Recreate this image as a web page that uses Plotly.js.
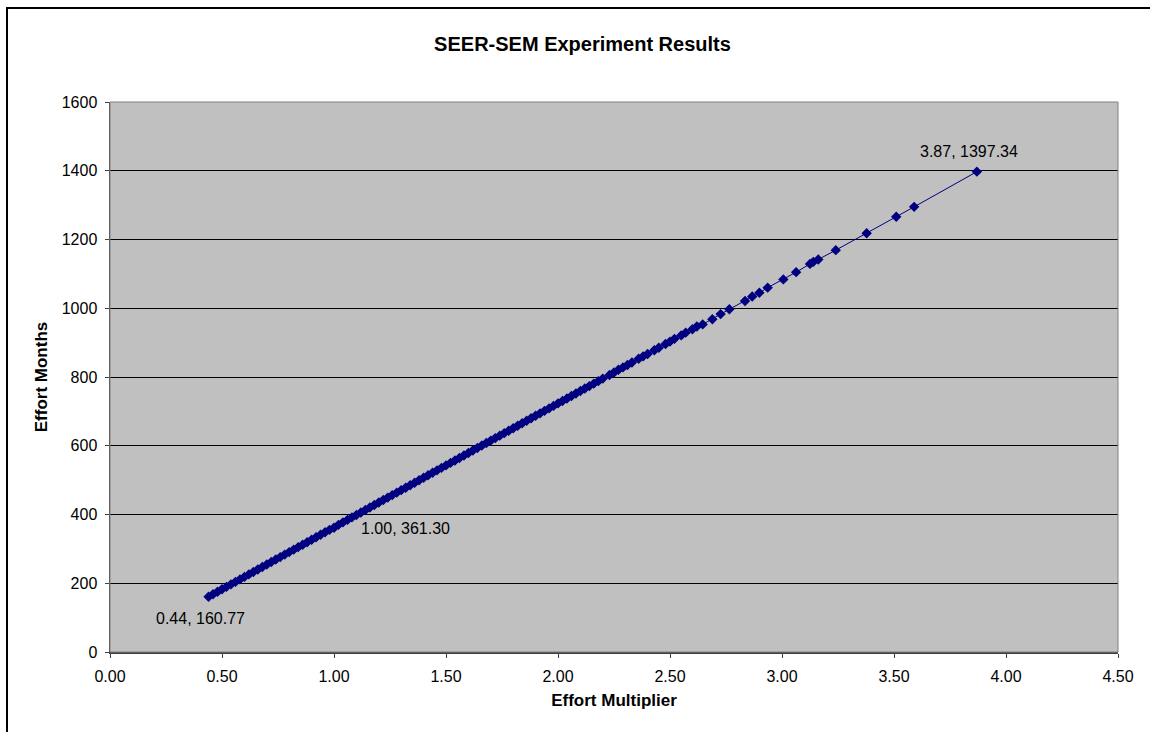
<!DOCTYPE html>
<html>
<head>
<meta charset="utf-8">
<script src="https://cdn.plot.ly/plotly-3.0.1.min.js"></script>
<style>
html,body{margin:0;padding:0;background:#fff;}
#wrap{position:relative;width:1153px;height:732px;overflow:hidden;}
#chart{position:absolute;left:0;top:0;width:1153px;height:732px;}
#frame{position:absolute;left:6px;top:7px;width:1142px;height:740px;border-left:2px solid #000;border-top:2px solid #000;pointer-events:none;}
</style>
</head>
<body>
<div id="wrap"><div id="chart"></div><div id="frame"></div></div>
<script>
// Effort Multiplier (x) and Effort Months (y)
const effortMultiplier = [
0.44,0.46,0.48,0.50,0.52,0.54,0.56,0.58,0.60,0.62,0.64,0.66,0.68,0.70,0.72,0.74,0.76,0.78,0.80,0.82,
0.84,0.86,0.88,0.90,0.92,0.94,0.96,0.98,1.00,1.02,1.04,1.06,1.08,1.10,1.12,1.14,1.16,1.18,1.20,1.22,
1.24,1.26,1.28,1.30,1.32,1.34,1.36,1.38,1.40,1.42,1.44,1.46,1.48,1.50,1.52,1.54,1.56,1.58,1.60,1.62,
1.64,1.66,1.68,1.70,1.72,1.74,1.76,1.78,1.80,1.82,1.84,1.86,1.88,1.90,1.92,1.94,1.96,1.98,2.00,2.02,
2.04,2.06,2.08,2.10,2.12,2.14,2.16,2.18,2.20,2.23,2.25,2.27,2.29,2.31,2.33,2.36,2.38,2.40,2.43,2.45,
2.48,2.50,2.52,2.55,2.57,2.60,2.62,2.646,2.689,2.726,2.765,2.835,2.867,2.899,2.936,3.006,3.063,3.125,3.14,3.162,
3.24,3.378,3.51,3.59,3.87
];
const effortMonths = [
160.77,168.0,175.2,182.4,189.6,196.8,204.0,211.2,218.5,225.7,232.9,240.1,247.3,254.5,261.7,268.9,276.1,283.3,290.6,297.8,
305.0,312.2,319.4,326.6,333.8,341.0,348.2,355.4,361.30,369.9,377.1,384.3,391.5,398.7,405.9,413.1,420.3,427.5,434.8,442.0,
449.2,456.4,463.6,470.8,478.0,485.2,492.4,499.6,506.9,514.1,521.3,528.5,535.7,542.9,550.1,557.3,564.5,571.7,579.0,586.2,
593.4,600.6,607.8,615.0,622.2,629.4,636.6,643.8,651.1,658.3,665.5,672.7,679.9,687.1,694.3,701.5,708.7,715.9,723.2,730.4,
737.6,744.8,752.0,759.2,766.4,773.6,780.8,788.0,795.3,806,813,821,828,835,842,853,860,867,878,885,
896,903,911,921,929,939,947,953,968,983,997,1021,1034,1045,1060,1084,1105,1129,1135,1142,
1169,1218,1266,1295,1397.34
];
const labelX = [0.44, 1.00, 3.87];
const labelY = [160.77, 361.30, 1397.34];
const labelText = ["0.44, 160.77", "1.00, 361.30", "3.87, 1397.34"];
const xTicks = [0,0.5,1,1.5,2,2.5,3,3.5,4,4.5];
const xTickText = ["0.00","0.50","1.00","1.50","2.00","2.50","3.00","3.50","4.00","4.50"];
const yTicks = [0,200,400,600,800,1000,1200,1400,1600];

const font = "Liberation Sans, Arial, sans-serif";
const navy = "#000080";

const trace = {
  x: effortMultiplier, y: effortMonths, type: "scatter", mode: "lines+markers",
  line: {color: navy, width: 1},
  marker: {symbol: "diamond", size: 8, color: navy},
  hoverinfo: "x+y", showlegend: false
};

const annPos = [
  {xanchor:"center", yanchor:"middle", xshift:-8, yshift:-22},
  {xanchor:"center", yanchor:"middle", xshift:71, yshift:-1},
  {xanchor:"center", yanchor:"middle", xshift:-8, yshift:20}
];
const annotations = labelX.map((x,i)=>Object.assign({
  x: x, y: labelY[i], xref:"x", yref:"y", text: labelText[i], showarrow:false,
  font:{family:font, size:16, color:"#000"}
}, annPos[i]));

const layout = {
  width:1153, height:732,
  margin:{l:110, r:35, t:102, b:80},
  paper_bgcolor:"#fff", plot_bgcolor:"#C0C0C0",
  font:{family:font, size:16, color:"#000"},
  title:{text:"<b>SEER-SEM Experiment Results</b>", font:{family:font, size:20, color:"#000"},
    xref:"container", yref:"container", x:0.5052, y:1-44/732, xanchor:"center", yanchor:"middle"},
  xaxis:{range:[0,4.5], tickvals:xTicks, ticktext:xTickText, showgrid:false, zeroline:false,
    showline:true, linecolor:"#404040", linewidth:1.5, ticks:"outside", ticklen:4, tickcolor:"#404040",
    ticklabelstandoff:5,
    tickfont:{family:font,size:16,color:"#000"},
    title:{text:"<b>Effort Multiplier</b>", font:{family:font,size:17,color:"#000"}, standoff:10}},
  yaxis:{range:[0,1600], tickvals:yTicks, showgrid:true, gridcolor:"#000", gridwidth:1, zeroline:false,
    showline:true, linecolor:"#404040", linewidth:1.5, ticks:"outside", ticklen:4, tickcolor:"#404040",
    ticklabelstandoff:4,
    tickfont:{family:font,size:16,color:"#000"},
    title:{text:"<b>Effort Months</b>", font:{family:font,size:17,color:"#000"}, standoff:10}},
  shapes:[{type:"rect", xref:"paper", yref:"paper", x0:0, x1:1, y0:0, y1:1, line:{color:"#808080", width:1}, layer:"above"}],
  annotations: annotations
};

Plotly.newPlot("chart", [trace], layout, {displayModeBar:false, staticPlot:true});
</script>
</body>
</html>
